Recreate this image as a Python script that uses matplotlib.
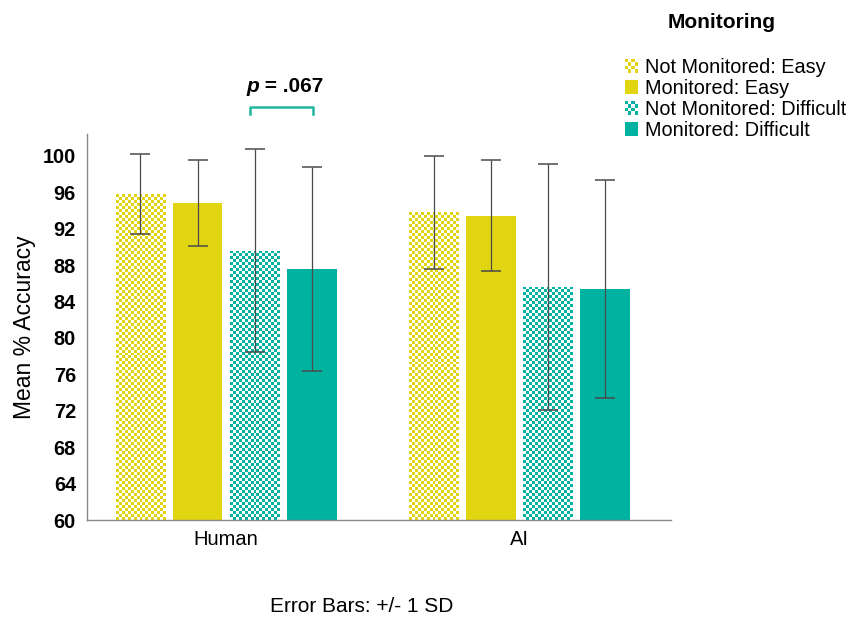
import numpy as np
import matplotlib
matplotlib.use("Agg")
import matplotlib.pyplot as plt
from matplotlib.patches import Patch
from matplotlib.legend_handler import HandlerBase
from matplotlib.image import BboxImage
from matplotlib.transforms import Bbox, TransformedBbox

plt.rcParams['font.family'] = ['Liberation Sans', 'DejaVu Sans']

groups = ['Human', 'AI']
conditions = ['Not Monitored: Easy', 'Monitored: Easy',
              'Not Monitored: Difficult', 'Monitored: Difficult']
means = {
    'Not Monitored: Easy': [95.8, 93.8],
    'Monitored: Easy': [94.8, 93.4],
    'Not Monitored: Difficult': [89.6, 85.6],
    'Monitored: Difficult': [87.6, 85.4],
}
sds = {
    'Not Monitored: Easy': [4.4, 6.2],
    'Monitored: Easy': [4.7, 6.1],
    'Not Monitored: Difficult': [11.2, 13.5],
    'Monitored: Difficult': [11.2, 12.0],
}
y_ticks = [60, 64, 68, 72, 76, 80, 84, 88, 92, 96, 100]
p_value = '.067'

yellow = '#E1D512'
teal = '#00B3A0'
colors = [yellow, yellow, teal, teal]
checkered = [True, False, True, False]


def checker(nrows, ncols, color):
    rgb = np.array(matplotlib.colors.to_rgb(color))
    img = np.ones((nrows, ncols, 3))
    mask = (np.add.outer(np.arange(nrows), np.arange(ncols)) % 2) == 0
    img[mask] = rgb
    return img


class CheckerHandler(HandlerBase):
    def __init__(self, color):
        super().__init__()
        self.color = color

    def create_artists(self, legend, orig_handle, xdescent, ydescent,
                       width, height, fontsize, trans):
        bb = TransformedBbox(Bbox.from_bounds(-xdescent, -ydescent, width, height), trans)
        img = BboxImage(bb, interpolation='nearest')
        img.set_data(checker(4, 4, self.color))
        return [img]


fig = plt.figure(figsize=(8.52, 6.17), dpi=100)
ax = fig.add_axes([87 / 852, 1 - 520 / 617, (671 - 87) / 852, (520 - 134) / 617])
ax.set_xlim(-0.473, 1.514)
ax.set_ylim(60, 102.4)

x = np.arange(len(groups))
width = 0.17
offsets = [-0.291, -0.097, 0.097, 0.291]
cell = 3  # checker cell size in pixels

handles = []
handler_map = {}
for cond, col, chk, off in zip(conditions, colors, checkered, offsets):
    xs = x + off
    if chk:
        bars = ax.bar(xs, np.array(means[cond]) - 60, width, bottom=60,
                      color='none', edgecolor='none', zorder=2)
        for b in bars:
            x0, y0 = b.get_x(), b.get_y()
            x1, y1 = x0 + b.get_width(), y0 + b.get_height()
            p0 = ax.transData.transform((x0, y0))
            p1 = ax.transData.transform((x1, y1))
            nc = max(1, int(round((p1[0] - p0[0]) / cell)))
            nr = max(1, int(round((p1[1] - p0[1]) / cell)))
            im = ax.imshow(checker(nr, nc, col), extent=(x0, x1, y0, y1),
                           interpolation='nearest', aspect='auto', zorder=2)
            im.set_clip_path(b)
        h = Patch(facecolor=col, label=cond)
        handler_map[h] = CheckerHandler(col)
    else:
        ax.bar(xs, np.array(means[cond]) - 60, width, bottom=60,
               color=col, edgecolor='none', zorder=2)
        h = Patch(facecolor=col, label=cond)
    handles.append(h)
    ax.errorbar(xs, means[cond], yerr=sds[cond], fmt='none', ecolor='#4a4a4a',
                elinewidth=0.9, capsize=7, capthick=1.1, zorder=3)

ax.set_xlim(-0.473, 1.514)
ax.set_ylim(60, 102.4)

ax.set_yticks(y_ticks)
ax.set_yticklabels([str(t) for t in y_ticks], fontsize=14.3, fontweight='bold')
ax.set_xticks(x)
ax.set_xticklabels(groups, fontsize=14.5)
ax.tick_params(axis='both', length=0)
ax.tick_params(axis='y', pad=8)
ax.tick_params(axis='x', pad=7)
for s in ['top', 'right']:
    ax.spines[s].set_visible(False)
for s in ['left', 'bottom']:
    ax.spines[s].set_color('#888888')
    ax.spines[s].set_linewidth(1)
ax.set_ylabel('Mean % Accuracy', fontsize=16.5, labelpad=5)

# significance bracket
bx0 = x[0] + offsets[2] - 0.017
bx1 = x[0] + offsets[3] + 0.004
ax.plot([bx0, bx0, bx1, bx1], [104.6, 105.4, 105.4, 104.6], color='#1DB79F',
        lw=1.8, clip_on=False)
px = x[0] + (259 - 226) / 294
ax.text(px, 107.6, 'p', ha='right', va='center', fontsize=15,
        fontweight='bold', style='italic', clip_on=False)
ax.text(px, 107.6, ' = ' + p_value, ha='left', va='center', fontsize=15,
        fontweight='bold', clip_on=False)

fig.text(722 / 852, 1 - 22 / 617, 'Monitoring', ha='center', va='center',
         fontsize=15, fontweight='bold')
fig.legend(handles=handles, labels=conditions, handler_map=handler_map,
           loc='upper left', bbox_to_anchor=(625 / 852, 1 - 58 / 617),
           frameon=False, fontsize=14.3, borderpad=0, borderaxespad=0,
           handlelength=0.65, handleheight=0.65, handletextpad=0.35,
           labelspacing=0.1)

fig.text(362 / 852, 1 - 607 / 617, 'Error Bars: +/- 1 SD', ha='center',
         va='center', fontsize=15)

fig.savefig('out.png', dpi=100)
